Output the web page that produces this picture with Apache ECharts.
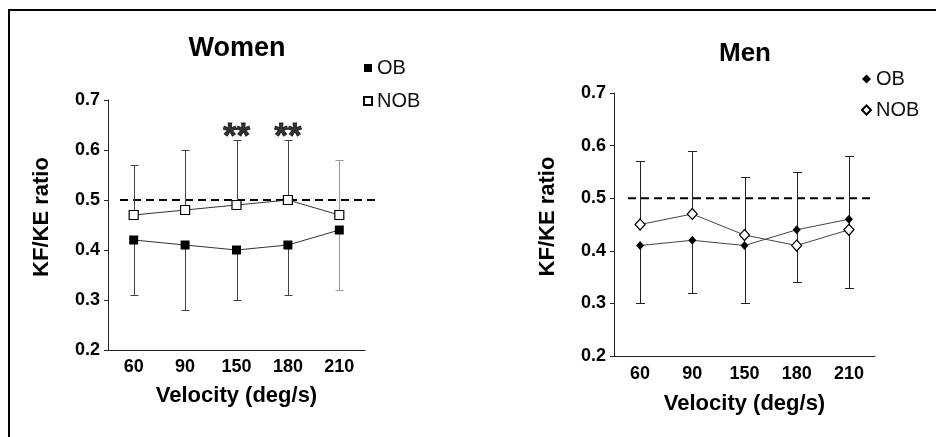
<!DOCTYPE html>
<html><head><meta charset="utf-8">
<script src="https://cdn.jsdelivr.net/npm/echarts@6/dist/echarts.min.js"></script>
<style>html,body{margin:0;padding:0;background:#fff}#c{width:936px;height:437px}</style>
</head><body><div id="c"></div>
<script>
// ---- data ----
const velocities = ['60', '90', '150', '180', '210'];
const womenOB = [0.42, 0.41, 0.40, 0.41, 0.44];
const womenOBLower = [0.31, 0.28, 0.30, 0.31, 0.32];
const womenNOB = [0.47, 0.48, 0.49, 0.50, 0.47];
const womenNOBUpper = [0.57, 0.60, 0.62, 0.62, 0.58];
const womenSignificance = ['', '', '**', '**', ''];
const menOB = [0.41, 0.42, 0.41, 0.44, 0.46];
const menOBLower = [0.30, 0.32, 0.30, 0.34, 0.33];
const menNOB = [0.45, 0.47, 0.43, 0.41, 0.44];
const menNOBUpper = [0.57, 0.59, 0.54, 0.55, 0.58];
const referenceRatio = 0.5;
const yMin = 0.2, yMax = 0.7, yStep = 0.1;

const FONT = "'Liberation Sans', Arial, sans-serif";
const chart = echarts.init(document.getElementById('c'));

function crisp(v) { return Math.round(v) + 0.5; }

function errorBar(capW, colorFn) {
  return function (params, api) {
    const i = api.value(0);
    const p1 = api.coord([i, api.value(1)]);
    const p2 = api.coord([i, api.value(2)]);
    const x = crisp(p1[0]);
    const y2 = crisp(p2[1]);
    const stroke = colorFn(params.dataIndex);
    return {
      type: 'group', children: [
        { type: 'line', shape: { x1: x, y1: p1[1], x2: x, y2: y2 }, style: { stroke: stroke, lineWidth: 1 } },
        { type: 'line', shape: { x1: x - capW / 2, y1: y2, x2: x + capW / 2, y2: y2 }, style: { stroke: stroke, lineWidth: 1 } }
      ]
    };
  };
}

function refLine(startInset, endOverhang) {
  return function (params, api) {
    const cs = params.coordSys;
    const y = api.coord([0, api.value(1)])[1];
    return {
      type: 'line',
      shape: { x1: cs.x + startInset, y1: y, x2: cs.x + cs.width + endOverhang, y2: y },
      style: { stroke: '#000', lineWidth: 2, lineDash: [8, 5] }
    };
  };
}

function xAxisFor(gridIndex, margin, nameGap) {
  return {
    gridIndex: gridIndex, type: 'category', data: velocities, boundaryGap: true,
    axisLine: { lineStyle: { color: '#222', width: 1 } },
    axisTick: { alignWithLabel: true, length: 4, lineStyle: { color: '#222' } },
    axisLabel: { fontFamily: FONT, fontWeight: 'bold', fontSize: 18, color: '#000', margin: margin },
    name: 'Velocity (deg/s)', nameLocation: 'middle', nameGap: nameGap,
    nameTextStyle: { fontFamily: FONT, fontWeight: 'bold', fontSize: 22, color: '#000' },
    splitLine: { show: false }
  };
}
function yAxisFor(gridIndex, margin, nameGap) {
  return {
    gridIndex: gridIndex, type: 'value', min: yMin, max: yMax, interval: yStep,
    axisLine: { show: true, lineStyle: { color: '#222', width: 1 } },
    axisTick: { show: true, length: 4, lineStyle: { color: '#222' } },
    axisLabel: { fontFamily: FONT, fontWeight: 'bold', fontSize: 18, color: '#000', margin: margin,
      formatter: v => v.toFixed(1) },
    name: 'KF/KE ratio', nameLocation: 'middle', nameGap: nameGap,
    nameTextStyle: { fontFamily: FONT, fontWeight: 'bold', fontSize: 22, color: '#000', padding: [0, 0, 0, 16] },
    splitLine: { show: false }
  };
}

const idx = velocities.map((v, i) => i);

const option = {
  animation: false,
  backgroundColor: '#fff',
  title: [
    { text: 'Women', left: 237, top: 35, textAlign: 'center', padding: 0,
      textStyle: { fontFamily: FONT, fontWeight: 'bold', fontSize: 27, color: '#000' } },
    { text: 'Men', left: 745, top: 41, textAlign: 'center', padding: 0,
      textStyle: { fontFamily: FONT, fontWeight: 'bold', fontSize: 26, color: '#000' } }
  ],
  legend: [
    { left: 363, top: 58, orient: 'vertical', itemGap: 13, itemWidth: 8, itemHeight: 8, padding: 0,
      selectedMode: false,
      data: [{ name: 'Women OB', icon: 'rect' }, { name: 'Women NOB', icon: 'rect' }],
      formatter: n => n.split(' ')[1],
      textStyle: { fontFamily: FONT, fontSize: 20, color: '#111' } },
    { left: 861, top: 69, orient: 'vertical', itemGap: 11, itemWidth: 9, itemHeight: 9, padding: 0,
      selectedMode: false,
      data: [{ name: 'Men OB', icon: 'diamond' }, { name: 'Men NOB', icon: 'diamond' }],
      formatter: n => n.split(' ')[1],
      textStyle: { fontFamily: FONT, fontSize: 20, color: '#111' } }
  ],
  grid: [
    { left: 108, top: 100, width: 257, height: 250, containLabel: false },
    { left: 614, top: 93, width: 261, height: 263, containLabel: false }
  ],
  xAxis: [xAxisFor(0, 8, 35), xAxisFor(1, 9, 37)],
  yAxis: [yAxisFor(0, 8, 55), yAxisFor(1, 8, 55)],
  graphic: [
    { type: 'polyline', shape: { points: [[9, 437], [9, 10], [936, 10]] },
      style: { stroke: '#000', lineWidth: 2, fill: null }, silent: true }
  ],
  series: [
    // reference lines
    { type: 'custom', xAxisIndex: 0, yAxisIndex: 0, data: [[0, referenceRatio]], encode: { x: 0, y: 1 },
      renderItem: refLine(12, 12), z: 1, silent: true },
    { type: 'custom', xAxisIndex: 1, yAxisIndex: 1, data: [[0, referenceRatio]], encode: { x: 0, y: 1 },
      renderItem: refLine(14, 0), z: 1, silent: true },
    // women error bars
    { type: 'custom', xAxisIndex: 0, yAxisIndex: 0,
      data: idx.map(i => [i, womenOB[i], womenOBLower[i]]), encode: { x: 0, y: [1, 2] },
      renderItem: errorBar(8, i => i === 4 ? '#999' : '#444'), z: 2, silent: true },
    { type: 'custom', xAxisIndex: 0, yAxisIndex: 0,
      data: idx.map(i => [i, womenNOB[i], womenNOBUpper[i]]), encode: { x: 0, y: [1, 2] },
      renderItem: errorBar(8, i => i === 4 ? '#999' : '#444'), z: 2, silent: true },
    // men error bars
    { type: 'custom', xAxisIndex: 1, yAxisIndex: 1,
      data: idx.map(i => [i, menOB[i], menOBLower[i]]), encode: { x: 0, y: [1, 2] },
      renderItem: errorBar(9, () => '#222'), z: 2, silent: true },
    { type: 'custom', xAxisIndex: 1, yAxisIndex: 1,
      data: idx.map(i => [i, menNOB[i], menNOBUpper[i]]), encode: { x: 0, y: [1, 2] },
      renderItem: errorBar(9, () => '#222'), z: 2, silent: true },
    // women lines
    { name: 'Women OB', type: 'line', xAxisIndex: 0, yAxisIndex: 0, data: womenOB,
      symbol: 'rect', symbolSize: 9, z: 5,
      lineStyle: { color: '#333', width: 1 }, itemStyle: { color: '#000' } },
    { name: 'Women NOB', type: 'line', xAxisIndex: 0, yAxisIndex: 0, data: womenNOB,
      symbol: 'rect', symbolSize: 9, z: 5,
      lineStyle: { color: '#333', width: 1 }, itemStyle: { color: '#fff', borderColor: '#000', borderWidth: 1.2 } },
    // men lines
    { name: 'Men OB', type: 'line', xAxisIndex: 1, yAxisIndex: 1, data: menOB,
      symbol: 'diamond', symbolSize: [8, 9], z: 5,
      lineStyle: { color: '#444', width: 1 }, itemStyle: { color: '#000' } },
    { name: 'Men NOB', type: 'line', xAxisIndex: 1, yAxisIndex: 1, data: menNOB,
      symbol: 'diamond', symbolSize: [10, 11], z: 5,
      lineStyle: { color: '#444', width: 1 }, itemStyle: { color: '#fff', borderColor: '#000', borderWidth: 1.2 } },
    // significance markers
    { type: 'scatter', xAxisIndex: 0, yAxisIndex: 0, symbolSize: 0, silent: true, z: 6,
      data: idx.filter(i => womenSignificance[i]).map(i => [i, womenNOBUpper[i]]),
      label: { show: true, position: 'top', distance: -15,
        formatter: p => womenSignificance[p.data[0]],
        fontFamily: FONT, fontWeight: 'bold', fontSize: 35, color: '#000',
        textBorderColor: '#000', textBorderWidth: 0.8 } }
  ]
};
chart.setOption(option);
</script>
</body></html>
